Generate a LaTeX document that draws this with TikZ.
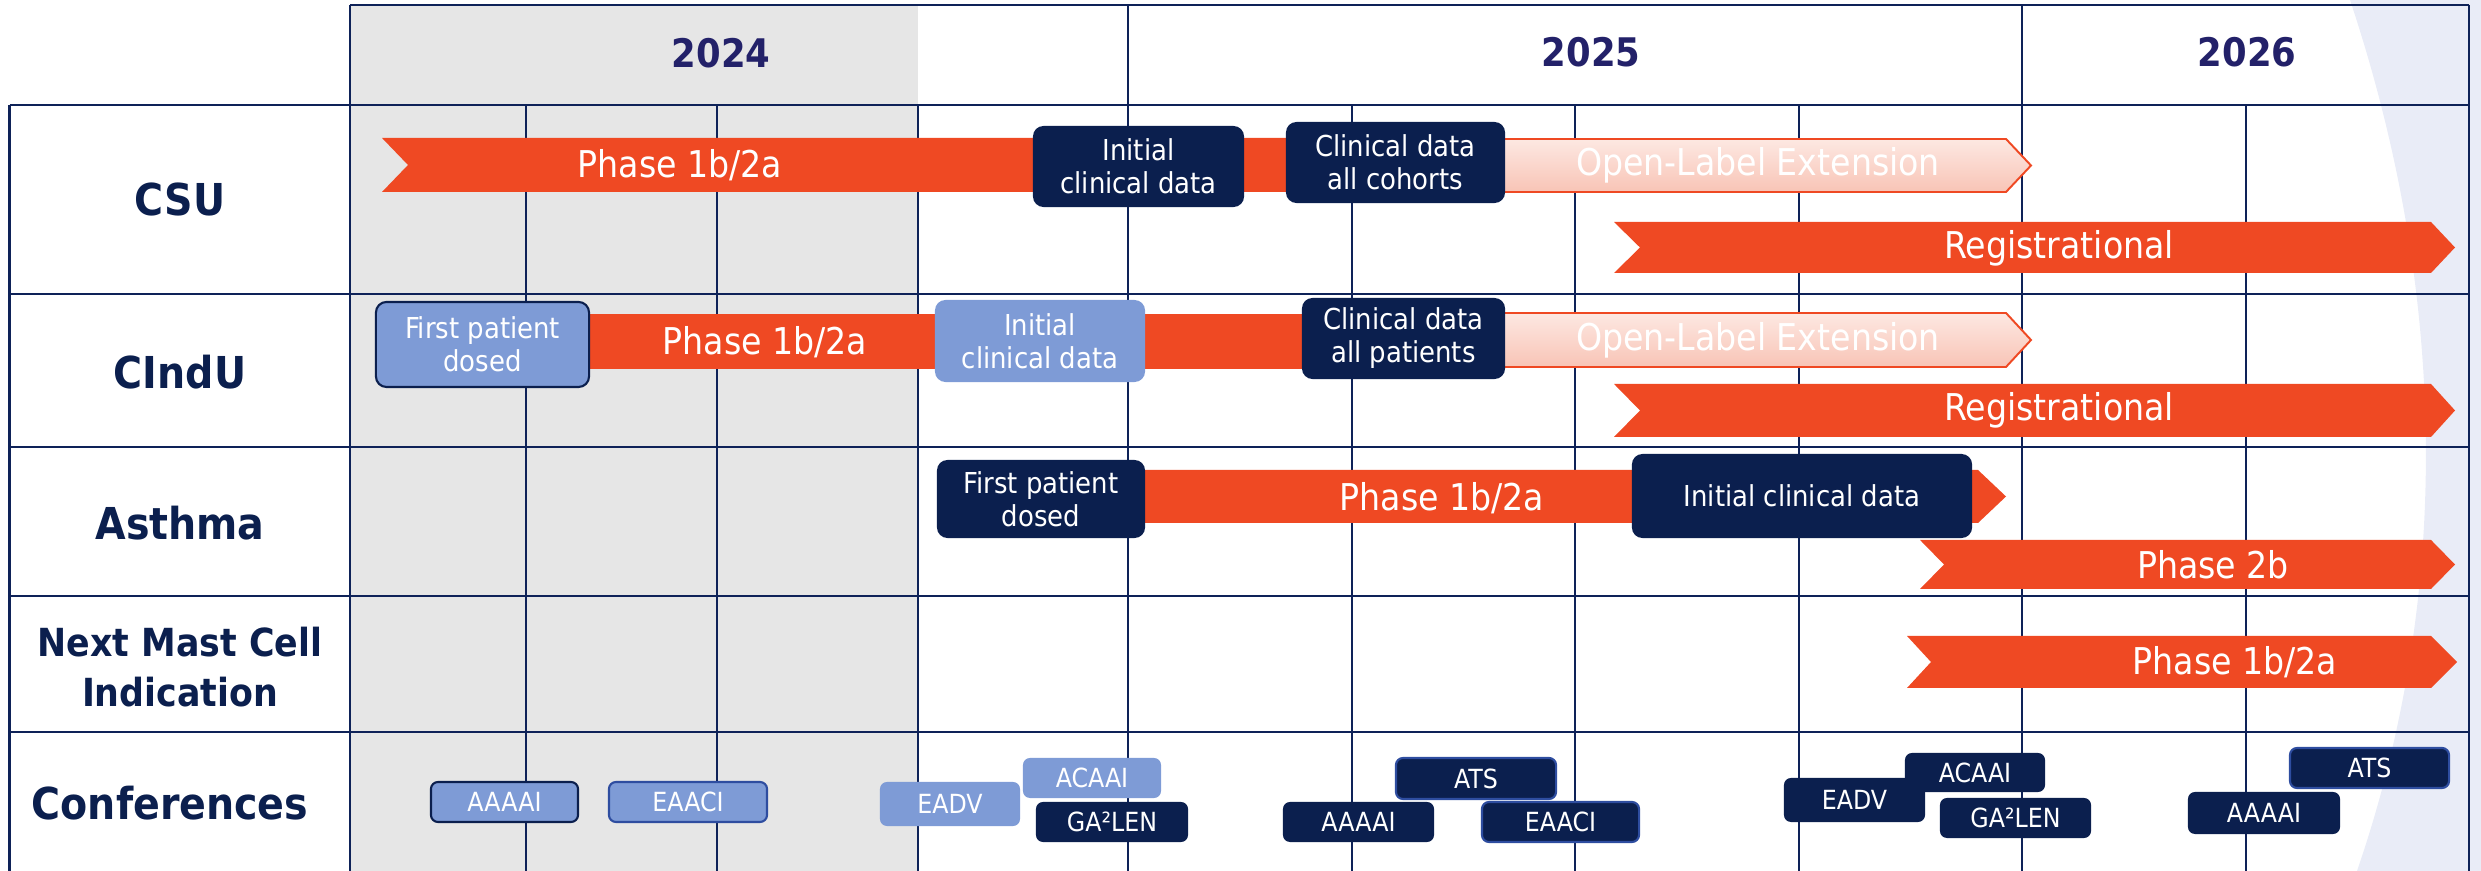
\documentclass[tikz,border=0pt]{standalone}
\usepackage{fontspec}
\setmainfont{DejaVu Sans Condensed}

\definecolor{navy}{RGB}{11,31,78}
\definecolor{gridline}{RGB}{14,34,88}
\definecolor{barorange}{RGB}{239,73,35}
\definecolor{lightblue}{RGB}{126,155,214}
\definecolor{shadegray}{RGB}{230,230,230}
\definecolor{lavender}{RGB}{233,236,247}
\definecolor{yearblue}{RGB}{35,33,105}
\definecolor{olepink}{RGB}{248,196,182}
\definecolor{oletop}{RGB}{253,232,226}
\definecolor{edgeblue}{RGB}{46,77,160}

\tikzset{
  rowlabel/.style={font=\fontsize{12.5}{14}\selectfont\bfseries, text=navy, align=center},
  yearlabel/.style={font=\fontsize{11.2}{13}\selectfont\bfseries, text=yearblue},
  bartext/.style={font=\fontsize{10.5}{12}\selectfont, text=white},
  navybox/.style={fill=navy, text=white, rounded corners=3pt, inner sep=0pt, align=center, font=\fontsize{8.2}{9.4}\selectfont},
  bluebox/.style={navybox, fill=lightblue},
  confnavy/.style={fill=navy, text=white, rounded corners=2pt, inner sep=0pt, font=\fontsize{7.5}{9}\selectfont},
  confblue/.style={confnavy, fill=lightblue},
  olebar/.style={draw=barorange, line width=0.55pt, top color=oletop, middle color=olepink, bottom color=olepink},
  rowline/.style={draw=gridline, line width=0.8pt},
  colline/.style={draw=gridline, line width=0.65pt},
}

\begin{document}
\begin{tikzpicture}[x=0.01cm, y=-0.01cm]
  \useasboundingbox (0,0) rectangle (2481,871);
  % backgrounds
  \fill[shadegray] (350,5) rectangle (918,871);
  \fill[lavender] (2350,0) .. controls (2450,300) and (2450,600) .. (2357,871) -- (2481,871) -- (2481,0) -- cycle;

  % grid
  \draw[rowline] (350,5) -- (2469,5);
  \foreach \y in {105,294,447,596,732}
    \draw[rowline] (9.5,\y) -- (2469,\y);
  \draw[colline] (9.5,105) -- (9.5,871);
  \foreach \x in {350,1128,2022,2469}
    \draw[colline] (\x,5) -- (\x,871);
  \foreach \x in {526,717,918,1352,1575,1799,2246}
    \draw[colline] (\x,105) -- (\x,871);

  % years
  \node[yearlabel] (y24) at (721,53) {2024};
  \node[yearlabel] (y25) at (1591,52) {2025};
  \node[yearlabel] (y26) at (2247,52) {2026};

  % row labels
  \node[rowlabel] (csu) at (180,200) {CSU};
  \node[rowlabel] (cindu) at (180,372) {CIndU};
  \node[rowlabel] (asthma) at (180,523) {Asthma};
  \node[rowlabel, font=\fontsize{11}{14.2}\selectfont\bfseries] (nextmc) at (180,667) {Next Mast Cell\\Indication};
  \node[rowlabel] (conf) at (170,803) {Conferences};

  % CSU
  \fill[barorange] (382,138) -- (1300,138) -- (1300,192) -- (382,192) -- (408,165) -- cycle;
  \draw[olebar] (1490,139) -- (2006,139) -- (2031,165.5) -- (2006,192) -- (1490,192) -- cycle;
  \fill[barorange] (1614,222) -- (2431,222) -- (2455,247.5) -- (2431,273) -- (1614,273) -- (1640,247.5) -- cycle;
  \node[bartext] (csuph) at (680,165) {Phase 1b/2a};
  \node[bartext] (csuole) at (1758,165) {Open-Label Extension};
  \node[bartext] (csureg) at (2059,248) {Registrational};
  \node[navybox, minimum width=2.11cm, minimum height=0.81cm] (csuinit) at (1138.5,166.5) {Initial\\clinical data};
  \node[navybox, minimum width=2.19cm, minimum height=0.81cm] (csuall) at (1395.5,162.5) {Clinical data\\all cohorts};

  % CIndU
  \fill[barorange] (580,314) rectangle (1310,369);
  \draw[olebar] (1490,313) -- (2006,313) -- (2031,340) -- (2006,367) -- (1490,367) -- cycle;
  \fill[barorange] (1614,384) -- (2431,384) -- (2455,410.5) -- (2431,437) -- (1614,437) -- (1640,410.5) -- cycle;
  \node[bartext] (cinduph) at (765,342) {Phase 1b/2a};
  \node[bartext] (cinduole) at (1758,340) {Open-Label Extension};
  \node[bartext] (cindureg) at (2059,410) {Registrational};
  \node[bluebox, draw=navy, line width=0.6pt, minimum width=2.13cm, minimum height=0.85cm] (cindufirst) at (482.5,344.5) {First patient\\dosed};
  \node[bluebox, minimum width=2.10cm, minimum height=0.82cm] (cinduinit) at (1040,341) {Initial\\clinical data};
  \node[navybox, minimum width=2.03cm, minimum height=0.81cm] (cinduall) at (1403.5,338.5) {Clinical data\\all patients};

  % Asthma
  \fill[barorange] (1140,470) -- (1978,470) -- (2006,496.5) -- (1978,523) -- (1140,523) -- cycle;
  \fill[barorange] (1920,540) -- (2431,540) -- (2455,564.5) -- (2431,589) -- (1920,589) -- (1944,564.5) -- cycle;
  \node[bartext] (asthph) at (1442,498) {Phase 1b/2a};
  \node[bartext] (asthtwob) at (2213,565) {Phase 2b};
  \node[navybox, minimum width=2.08cm, minimum height=0.78cm] (asthfirst) at (1041,499) {First patient\\dosed};
  \node[navybox, minimum width=3.40cm, minimum height=0.84cm] (asthinit) at (1802,496) {Initial clinical data};

  % Next mast cell indication
  \fill[barorange] (1907,636) -- (2431,636) -- (2457,662) -- (2431,688) -- (1907,688) -- (1931,662) -- cycle;
  \node[bartext] (nextph) at (2235,662) {Phase 1b/2a};

  % conferences
  \node[confblue, draw=navy, line width=0.6pt, minimum width=1.47cm, minimum height=0.40cm] (aaaai24) at (504.5,802) {AAAAI};
  \node[confblue, draw=edgeblue, line width=0.6pt, minimum width=1.58cm, minimum height=0.40cm] (eaaci24) at (688,802) {EAACI};
  \node[confblue, minimum width=1.40cm, minimum height=0.44cm] (eadv24) at (950,804) {EADV};
  \node[confblue, minimum width=1.38cm, minimum height=0.40cm] (acaai24) at (1092,778) {ACAAI};
  \node[confnavy, minimum width=1.52cm, minimum height=0.40cm] (galen24) at (1112,822) {GA²LEN};
  \node[confnavy, draw=edgeblue, line width=0.6pt, minimum width=1.60cm, minimum height=0.41cm] (ats25) at (1476,778.5) {ATS};
  \node[confnavy, minimum width=1.51cm, minimum height=0.40cm] (aaaai25) at (1358.5,822) {AAAAI};
  \node[confnavy, draw=edgeblue, line width=0.6pt, minimum width=1.57cm, minimum height=0.40cm] (eaaci25) at (1560.5,822) {EAACI};
  \node[confnavy, minimum width=1.41cm, minimum height=0.44cm] (eadv25) at (1854.5,800) {EADV};
  \node[confnavy, minimum width=1.40cm, minimum height=0.39cm] (acaai25) at (1975,772.5) {ACAAI};
  \node[confnavy, minimum width=1.51cm, minimum height=0.40cm] (galen25) at (2015.5,818) {GA²LEN};
  \node[confnavy, draw=edgeblue, line width=0.6pt, minimum width=1.59cm, minimum height=0.40cm] (ats26) at (2369.5,768) {ATS};
  \node[confnavy, minimum width=1.52cm, minimum height=0.42cm] (aaaai26) at (2264,813) {AAAAI};
\end{tikzpicture}
\end{document}
